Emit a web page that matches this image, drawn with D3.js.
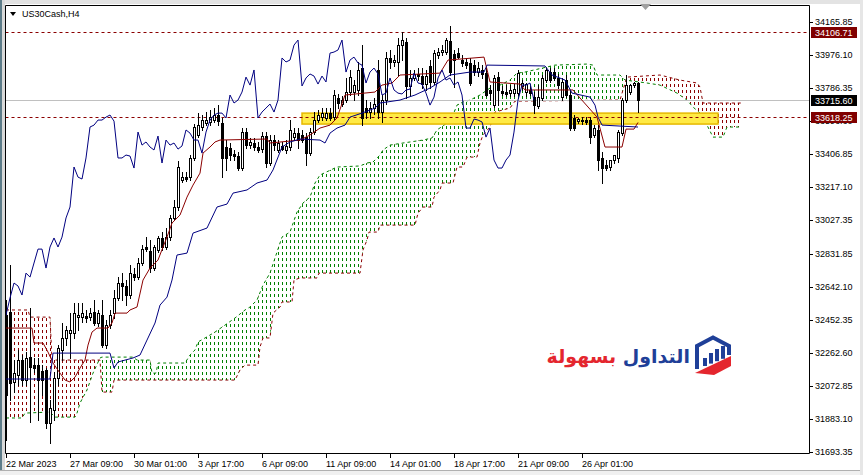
<!DOCTYPE html>
<html>
<head>
<meta charset="utf-8">
<script src="https://cdn.jsdelivr.net/npm/d3@7"></script>
<style>
html, body { margin: 0; padding: 0; background: #fff; }
svg { display: block; font-family: "Liberation Sans", Arial, sans-serif; }
</style>
</head>
<body>
<div id="chart"></div>
<script>
const symbol = 'US30Cash,H4';

// H4 bars [open, high, low, close], bar 0 = 22 Mar 2023
const candles = [
  [32481,32567,31762,32021],[32498,32768,31992,32090],[32096,32222,32038,32147],[32136,32280,32078,32222],
  [32222,32251,32078,32107],[32107,32268,32078,32234],[32239,32521,31866,32182],[32193,32234,32153,32176],
  [32193,32234,31877,32107],[32159,32193,32021,32107],[32165,32176,31831,31860],[31860,31992,31745,31946],
  [31935,32153,31877,32119],[32119,32308,32078,32291],[32280,32435,32222,32349],[32349,32418,32308,32395],
  [32377,32492,32234,32395],[32377,32550,32349,32492],[32469,32550,32395,32481],[32469,32550,32441,32492],
  [32475,32510,32441,32464],[32469,32521,32452,32492],[32498,32567,32423,32435],[32435,32510,32418,32492],
  [32481,32567,32297,32308],[32308,32452,32291,32423],[32423,32510,32406,32481],[32492,32625,32464,32579],
  [32579,32699,32567,32665],[32665,32722,32567,32648],[32648,32682,32538,32596],[32596,32768,32579,32722],
  [32717,32751,32682,32699],[32699,32809,32688,32780],[32780,32883,32768,32860],[32872,32929,32849,32860],
  [32849,32912,32728,32751],[32751,32883,32740,32872],[32855,32935,32843,32924],[32924,32958,32855,32872],
  [32872,32981,32860,32929],[32929,33056,32912,33039],[33039,33142,33027,33102],[33102,33366,33085,33332],
  [33257,33303,33246,33274],[33274,33303,33251,33263],[33274,33401,33257,33384],[33384,33579,33372,33562],
  [33516,33642,33504,33573],[33562,33631,33545,33602],[33585,33648,33573,33602],[33591,33660,33573,33619],
  [33602,33671,33591,33631],[33631,33688,33573,33596],[33585,33614,33274,33384],[33447,33487,33315,33384],
  [33441,33470,33372,33401],[33407,33430,33372,33395],[33395,33418,33315,33326],[33326,33556,33315,33533],
  [33533,33556,33441,33458],[33458,33499,33441,33476],[33470,33499,33430,33447],[33447,33476,33418,33430],
  [33435,33533,33418,33510],[33510,33533,33332,33355],[33355,33516,33343,33487],[33487,33516,33430,33458],
  [33430,33487,33418,33470],[33453,33476,33430,33435],[33430,33487,33412,33453],[33447,33602,33430,33545],
  [33504,33556,33487,33527],[33527,33556,33441,33487],[33516,33545,33476,33487],[33504,33527,33343,33412],
  [33412,33556,33401,33533],[33533,33648,33522,33602],[33602,33660,33591,33631],[33619,33671,33602,33642],
  [33614,33671,33602,33642],[33642,33671,33602,33614],[33619,33775,33602,33746],[33729,33752,33671,33700],
  [33694,33740,33683,33717],[33717,33844,33706,33763],[33763,33890,33746,33849],[33763,33832,33717,33803],
  [33775,33936,33746,33890],[33901,34033,33573,33614],[33671,33717,33614,33648],[33648,33706,33614,33671],
  [33671,33729,33637,33694],[33890,33947,33614,33648],[33648,33746,33591,33717],[33717,33993,33694,33959],
  [33959,34005,33901,33936],[33936,33976,33913,33947],[33936,34074,33861,34033],[34033,34108,33947,34062],
  [34051,34074,33729,33798],[33798,33890,33746,33844],[33844,33890,33832,33867],[33867,33901,33832,33855],
  [33855,33901,33786,33809],[33809,33890,33775,33855],[33913,33947,33786,33821],[33821,34005,33809,33987],
  [33976,34016,33959,33993],[33993,34033,33976,34005],[33993,34074,33982,34062],[34056,34143,33861,33878],
  [33982,34005,33792,33947],[33987,34016,33959,33964],[33947,33976,33913,33930],[33936,33959,33901,33918],
  [33930,33959,33803,33815],[33918,33947,33861,33878],[33878,33936,33855,33901],[33890,33918,33844,33867],
  [33872,33901,33740,33746],[33775,33803,33717,33757],[33688,33861,33677,33844],[33849,33878,33688,33775],
  [33769,33798,33746,33757],[33763,33803,33740,33752],[33757,33803,33740,33775],[33757,33809,33740,33780],
  [33757,33890,33746,33872],[33798,33832,33775,33815],[33763,33815,33740,33809],[33775,33798,33746,33757],
  [33734,33763,33642,33688],[33683,33803,33671,33734],[33729,33861,33717,33844],[33832,33901,33821,33890],
  [33878,33901,33821,33832],[33878,33901,33832,33844],[33844,33867,33786,33803],[33734,33844,33717,33821],
  [33832,33861,33734,33746],[33746,33775,33545,33556],[33614,33631,33545,33556],[33596,33614,33585,33608],
  [33596,33619,33579,33602],[33602,33619,33579,33591],[33602,33619,33470,33504],[33516,33573,33504,33556],
  [33545,33573,33315,33372],[33384,33418,33240,33326],[33343,33372,33315,33326],[33332,33372,33315,33372],
  [33372,33401,33355,33401],[33384,33545,33361,33533],[33527,33729,33516,33717],[33717,33861,33706,33803],
  [33763,33809,33752,33803],[33803,33821,33792,33815],[33815,33821,33648,33715.6]
];

// Ichimoku lines: [bar, price]
const tenkan = [
  [0,32406],[6.5,32406],[7,32320],[9.25,32320],[10.5,32268],[11.75,32205],[13.5,32147],[14.75,32107],
  [16,32096],[17.25,32124],[18.5,32176],[19.75,32222],[20.5,32308],[21.5,32383],[22.75,32406],[25.5,32406],
  [26.5,32435],[27.25,32492],[30.25,32492],[31,32510],[32.75,32527],[34.25,32682],[36,32751],[38,32797],
  [39.25,32872],[40.25,32929],[41.5,33010],[42.25,33027],[43.5,33056],[45.25,33159],[46.75,33228],[48.5,33297],
  [49.25,33412],[51,33447],[52.25,33476],[53.5,33487],[65.25,33493],[66,33470],[73.5,33487],[76,33516],
  [78.5,33556],[81,33573],[82.75,33614],[84.75,33746],[92.25,33763],[94,33803],[96.5,33815],[98.5,33861],
  [108.5,33872],[110.5,33947],[119.5,33964],[121,33821],[128.5,33809],[129.75,33775],[141.75,33775],[143.5,33729],
  [147.75,33619],[149.75,33447],[154,33447],[155,33550],[157,33550],[158,33588]
];
const kijun = [
  [0,32113],[11,32113],[11.75,32262],[26,32262],[27,32176],[28,32211],[31.75,32234],[33.5,32251],
  [35.25,32337],[37.25,32435],[38.5,32538],[40.25,32584],[41.5,32682],[42.75,32826],[45.25,32837],[46.75,32952],
  [50.25,32981],[52.75,33102],[55.25,33119],[56.75,33182],[60.25,33200],[62.75,33240],[65.25,33257],[66.75,33315],
  [69,33447],[71,33476],[73.5,33493],[78.5,33487],[79.75,33470],[81,33527],[82.75,33556],[84.75,33573],
  [86,33619],[89,33642],[92.25,33671],[93.5,33700],[98.5,33717],[102.25,33746],[106,33786],[108.5,33821],
  [111,33861],[116,33878],[119.5,33878],[120.25,33918],[134.75,33913],[136.5,33861],[139.75,33832],[141.5,33757],
  [146,33734],[147.25,33688],[148,33619],[149,33573],[158,33562]
];
const senkouA = [
  [0,31889],[4,31889],[4.75,31917],[11,31923],[12.25,31894],[17.25,31894],[17.75,31917],[18.5,31975],
  [20.25,32050],[21.75,32147],[23.5,32234],[24,32239],[31.75,32239],[32.75,32222],[36,32222],[36.5,32147],
  [37.5,32147],[38,32205],[44.75,32205],[46,32251],[47.25,32280],[48,32326],[49.75,32349],[52.25,32383],
  [54.75,32423],[57.25,32464],[59.75,32510],[61,32527],[62.75,32567],[64.25,32653],[66,32722],[69,32929],
  [71,32958],[72.75,33073],[74.25,33125],[76,33159],[77.25,33240],[78.5,33286],[82.75,33332],[88.5,33338],
  [90.25,33355],[91.75,33361],[93.5,33401],[94.25,33430],[96,33458],[99.25,33470],[104.25,33487],[106.5,33499],
  [107.75,33545],[110.25,33585],[111,33602],[111.75,33631],[112.75,33688],[114.25,33706],[116,33717],[118.5,33746],
  [121,33786],[123.5,33803],[126,33832],[127.75,33872],[129.75,33878],[135.25,33907],[137.25,33918],[145.25,33924],
  [146.75,33918],[147.75,33861],[153.5,33861],[154.75,33832],[160.25,33815],[163.5,33803],[167.75,33757],[170.25,33717],
  [171.75,33677],[173.5,33642],[175.25,33573],[176.75,33504],[179.25,33504],[180.25,33562],[184,33562]
];
const senkouB = [
  [0,32510],[5.5,32510],[6,32469],[11,32469],[11.5,32222],[23.5,32222],[24,32038],[26.5,32038],
  [27,32107],[57.25,32107],[58.5,32165],[59.75,32193],[63,32193],[63.5,32297],[64.25,32349],[66,32349],
  [66.75,32492],[68.5,32527],[69,32556],[71.5,32556],[72,32682],[73.5,32694],[77.75,32694],[78.25,32722],
  [88.5,32722],[89.25,32855],[90.25,32912],[90.75,32958],[93,32958],[93.5,32998],[102.25,32998],[103,33067],
  [104.25,33102],[106.5,33102],[107,33159],[108.5,33200],[109,33240],[111.75,33240],[112.75,33332],[114.25,33332],
  [115.25,33389],[117.75,33389],[118.5,33470],[119.25,33516],[121,33562],[122.25,33648],[126,33671],[127.25,33711],
  [153.5,33717],[154.25,33775],[155.25,33849],[163.5,33861],[168.5,33832],[172.75,33815],[173.5,33792],[174.25,33700],
  [184,33700]
];
const chikouShift = 26;

const priceTicks = [34165.85, 33976.10, 33786.35, 33596.60, 33406.85, 33217.10, 33027.35,
  32831.85, 32642.10, 32452.35, 32262.60, 32072.85, 31883.10, 31693.35];
const timeTicks = [
  { bar: 0, label: '22 Mar 2023' }, { bar: 16, label: '27 Mar 09:00' }, { bar: 32, label: '30 Mar 01:00' },
  { bar: 48, label: '3 Apr 17:00' }, { bar: 64, label: '6 Apr 09:00' }, { bar: 80, label: '11 Apr 09:00' },
  { bar: 96, label: '14 Apr 01:00' }, { bar: 112, label: '18 Apr 17:00' }, { bar: 128, label: '21 Apr 09:00' },
  { bar: 144, label: '26 Apr 01:00' }
];
const levels = [34106.71, 33618.25];
const lastPrice = 33715.60;
const zone = { from: 74, to: 178, low: 33579, high: 33642 };

const W = 863, H = 475;
const frame = { left: 5.5, right: 809.5, top: 5.5, bottom: 453.5 };
const darkRed = '#8b0000', navy = '#000080', green = '#008000', cloudRed = '#8b0000';

const svg = d3.select('#chart').append('svg').attr('width', W).attr('height', H);
const x = d3.scaleLinear().domain([0, 184]).range([6, 742]);
const y = d3.scaleLinear().domain([31693.35, 34165.85]).range([452, 22]);

// window chrome
svg.append('rect').attr('width', W).attr('height', H).attr('fill', '#fff');
svg.append('rect').attr('width', W).attr('height', 4).attr('fill', '#e3e3e3');
svg.append('rect').attr('width', 2).attr('height', H).attr('fill', '#5d7c89');
svg.append('rect').attr('x', 2).attr('width', 3).attr('height', H).attr('fill', '#d9d9d9');
svg.append('rect').attr('y', 470).attr('width', W).attr('height', 5).attr('fill', '#f0f0f0');
svg.append('line').attr('x1', 0).attr('x2', W).attr('y1', 470.5).attr('y2', 470.5).attr('stroke', '#b0b0b0');
svg.append('rect').attr('x', 860).attr('width', 3).attr('height', H).attr('fill', '#e6e6e6');

const defs = svg.append('defs');
defs.append('clipPath').attr('id', 'plot').append('rect')
  .attr('x', frame.left).attr('y', frame.top)
  .attr('width', frame.right - frame.left).attr('height', frame.bottom - frame.top);

function hatch(id, color) {
  defs.append('pattern').attr('id', id).attr('patternUnits', 'userSpaceOnUse')
    .attr('x', x(0)).attr('y', 0).attr('width', 4).attr('height', 6)
    .append('rect').attr('width', 1).attr('height', 3).attr('fill', color);
}
hatch('hatchGreen', green);
hatch('hatchRed', cloudRed);

const line = d3.line().x(d => x(d[0])).y(d => y(d[1]));
const g = svg.append('g').attr('clip-path', 'url(#plot)');

// cloud: between A and B, green where A on top, red where B on top
const pathA = line(senkouA), pathB = line(senkouB);
const between = pathA + 'L' + line(senkouB.slice().reverse()).slice(1) + 'Z';
defs.append('clipPath').attr('id', 'aboveB').append('path')
  .attr('d', pathB + `L${x(184)},0L${x(0)},0Z`);
defs.append('clipPath').attr('id', 'aboveA').append('path')
  .attr('d', pathA + `L${x(184)},0L${x(0)},0Z`);
g.append('path').attr('d', between).attr('fill', 'url(#hatchGreen)').attr('clip-path', 'url(#aboveB)');
g.append('path').attr('d', between).attr('fill', 'url(#hatchRed)').attr('clip-path', 'url(#aboveA)');
g.append('path').attr('d', pathA).attr('fill', 'none').attr('stroke', green).attr('stroke-dasharray', '3,3');
g.append('path').attr('d', pathB).attr('fill', 'none').attr('stroke', cloudRed).attr('stroke-dasharray', '3,3');

// support zone
g.append('rect')
  .attr('x', x(zone.from)).attr('y', y(zone.high))
  .attr('width', x(zone.to) - x(zone.from)).attr('height', y(zone.low) - y(zone.high))
  .attr('fill', '#ffea45').attr('stroke', '#e6b800').attr('stroke-width', 1.5);

// horizontal levels
const py = v => Math.round(y(v)) + 0.5;
levels.forEach(v => {
  g.append('line').attr('x1', frame.left).attr('x2', frame.right).attr('y1', py(v)).attr('y2', py(v))
    .attr('stroke', darkRed).attr('stroke-dasharray', '3,3');
});
g.append('line').attr('x1', frame.left).attr('x2', frame.right)
  .attr('y1', py(lastPrice)).attr('y2', py(lastPrice)).attr('stroke', '#c0c0c0');

// candles
const bars = g.append('g');
candles.forEach((c, i) => {
  const [o, h, l, cl] = c;
  const cx = Math.round(x(i));
  const top = Math.round(y(Math.max(o, cl))), bot = Math.round(y(Math.min(o, cl)));
  bars.append('line').attr('x1', cx + 0.5).attr('x2', cx + 0.5)
    .attr('y1', Math.round(y(h))).attr('y2', Math.round(y(l)) + 1).attr('stroke', '#000');
  if (cl >= o) {
    bars.append('rect').attr('x', cx - 0.5).attr('y', top + 0.5)
      .attr('width', 2).attr('height', Math.max(bot - top, 0.01))
      .attr('fill', '#fff').attr('stroke', '#000');
  } else {
    bars.append('rect').attr('x', cx - 1).attr('y', top)
      .attr('width', 3).attr('height', Math.max(bot - top + 1, 1)).attr('fill', '#000');
  }
});

// Tenkan, Kijun, Chikou
g.append('path').attr('d', line(tenkan)).attr('fill', 'none').attr('stroke', darkRed);
g.append('path').attr('d', line(kijun)).attr('fill', 'none').attr('stroke', navy);
const chikou = candles.map((c, i) => [i - chikouShift, c[3]]).filter(d => d[0] >= -1);
g.append('path').attr('d', line(chikou)).attr('fill', 'none').attr('stroke', navy);

// frame
svg.append('path')
  .attr('d', `M${frame.left},${frame.top}H${frame.right}V${frame.bottom}H${frame.left}Z`)
  .attr('fill', 'none').attr('stroke', '#000');
svg.append('path').attr('d', 'M640,4H651L645.5,10Z').attr('fill', '#a0a0a0');

// price axis
const axisFont = 9;
priceTicks.forEach(v => {
  svg.append('line').attr('x1', frame.right).attr('x2', 813).attr('y1', py(v)).attr('y2', py(v)).attr('stroke', '#000');
  svg.append('text').attr('x', 815).attr('y', y(v) + 3.3).attr('font-size', axisFont).attr('fill', '#000')
    .text(v.toFixed(2));
});
const boxes = [
  { v: levels[0], fill: '#800000' },
  { v: lastPrice, fill: '#000' },
  { v: levels[1], fill: '#800000' }
];
boxes.forEach(b => {
  const cy = Math.round(y(b.v));
  svg.append('rect').attr('x', 811).attr('y', cy - 5).attr('width', 46).attr('height', 11).attr('fill', b.fill);
  svg.append('text').attr('x', 815).attr('y', cy + 3.8).attr('font-size', axisFont).attr('fill', '#fff')
    .text(b.v.toFixed(2));
});

// time axis
timeTicks.forEach(t => {
  const tx = Math.round(x(t.bar)) + 0.5;
  svg.append('line').attr('x1', tx).attr('x2', tx).attr('y1', frame.bottom).attr('y2', 458).attr('stroke', '#000');
  svg.append('text').attr('x', tx - 0.5).attr('y', 466.5).attr('font-size', axisFont).attr('fill', '#000').text(t.label);
});

// title
svg.append('path').attr('d', 'M10,12H16L13,16Z').attr('fill', '#000');
svg.append('text').attr('x', 22).attr('y', 17).attr('font-size', 9).attr('fill', '#000').text(symbol);

// watermark logo
const logo = svg.append('g').attr('transform', 'translate(694,336)');
logo.append('path').attr('d', 'M3,33V10L19,1.5L35,10V19')
  .attr('fill', 'none').attr('stroke', '#1f3f98').attr('stroke-width', 4);
[[9, 22], [15, 17], [21, 13], [27, 10]].forEach(([bx, by]) => {
  logo.append('rect').attr('x', bx).attr('y', by).attr('width', 4).attr('height', 30 - by - (bx - 9) * 0.4)
    .attr('fill', '#1f3f98');
});
logo.append('path').attr('d', 'M1,37L37,20V30L20,39Z').attr('fill', '#e4262e');
const brand = svg.append('text').attr('x', 690).attr('y', 363).attr('text-anchor', 'end')
  .attr('font-family', '"DejaVu Sans", sans-serif').attr('font-weight', 'bold').attr('font-size', 19);
brand.append('tspan').attr('fill', '#1f3f98').text('التداول');
brand.append('tspan').attr('fill', '#e4262e').text(' بسهولة');
</script>
</body>
</html>
